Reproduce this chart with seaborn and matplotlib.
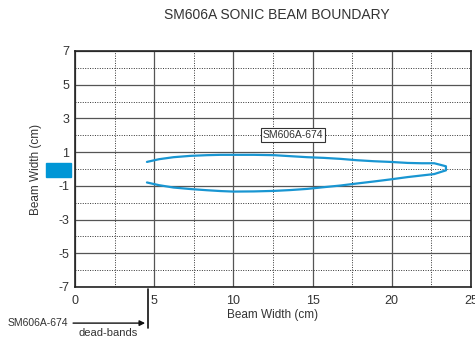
import matplotlib
matplotlib.use("Agg")
import matplotlib.pyplot as plt
import seaborn as sns
import pandas as pd
from matplotlib.patches import Rectangle

# Beam boundary (x in cm, y in cm)
upper_x = [4.54, 5.3, 6.22, 7.3, 8.33, 9.2, 10.0, 11.3, 12.55, 13.6, 14.66, 15.7, 16.77, 17.8, 18.88, 19.9, 21.0, 21.9, 22.68, 23.1, 23.42]
upper_y = [0.42, 0.58, 0.70, 0.78, 0.82, 0.84, 0.84, 0.84, 0.82, 0.76, 0.70, 0.66, 0.60, 0.52, 0.46, 0.42, 0.36, 0.34, 0.34, 0.24, 0.16]
lower_x = [23.42, 22.68, 21.0, 19.9, 18.88, 17.8, 16.77, 15.7, 14.66, 13.6, 12.55, 11.3, 10.0, 9.2, 8.33, 7.3, 6.22, 5.3, 4.54]
lower_y = [-0.08, -0.30, -0.48, -0.62, -0.74, -0.86, -0.98, -1.08, -1.18, -1.25, -1.30, -1.33, -1.34, -1.31, -1.26, -1.19, -1.10, -0.96, -0.80]

x_ticks = [0, 5, 10, 15, 20, 25]
y_ticks = [7, 5, 3, 1, -1, -3, -5, -7]
series_name = "SM606A-674"
dead_band = 4.6

df = pd.DataFrame({"x": upper_x + lower_x, "y": upper_y + lower_y})

sns.set_style("white")
plt.rcParams["font.family"] = ["Liberation Sans", "DejaVu Sans"]
plt.rcParams["axes.unicode_minus"] = False

blue = "#1996d2"
txt = "#333333"
fig = plt.figure(figsize=(4.75, 3.39), dpi=100)
ax = fig.add_axes([0.158, 0.1534, 0.8335, 0.6962])

# closed outline: upper edge left->right, lower edge back right->left
sns.lineplot(data=df, x="x", y="y", sort=False, estimator=None,
             color=blue, linewidth=1.6, ax=ax)

ax.set_xlim(0, 25)
ax.set_ylim(-7, 7)
ax.set_xticks(x_ticks)
ax.set_yticks(y_ticks)
ax.set_xticks([2.5, 7.5, 12.5, 17.5, 22.5], minor=True)
ax.set_yticks([6, 4, 2, 0, -2, -4, -6], minor=True)
ax.grid(True, which="major", color="#555555", linewidth=0.9)
ax.grid(True, which="minor", color="#333333", linewidth=0.7, linestyle=(0, (1, 1.5)))
ax.set_axisbelow(True)
ax.tick_params(which="both", length=0)
ax.tick_params(axis="x", pad=6, labelsize=9, colors=txt)
ax.tick_params(axis="y", pad=4, labelsize=9, colors=txt)
for s in ax.spines.values():
    s.set_color("#222222")
    s.set_linewidth(1.2)

ax.set_xlabel("Beam Width (cm)", fontsize=8.5, color=txt, labelpad=1)
ax.set_ylabel("Beam Width (cm)", fontsize=8.5, color=txt, labelpad=12)
fig.suptitle("SM606A SONIC BEAM BOUNDARY", x=0.583, y=0.975, fontsize=10, color=txt)

# label on curve
ax.text(13.77, 2.0, series_name, fontsize=7.5, ha="center", va="center", color=txt,
        bbox=dict(boxstyle="square,pad=0.2", fc="white", ec="#333333", lw=0.8))

# blue legend swatch left of the axes
ax.add_patch(Rectangle((-1.83, -0.45), 1.55, 0.8, transform=ax.transData,
                       color="#0096d6", clip_on=False))

# dead-band marker below axis
trans = ax.get_xaxis_transform()
ax.plot([dead_band, dead_band], [-0.01, -0.175], color="#111111", lw=1.2,
        transform=trans, clip_on=False)
ax.annotate("", xy=(dead_band, -0.153), xytext=(-0.3, -0.153), xycoords=trans, textcoords=trans,
            arrowprops=dict(arrowstyle="-|>", color="#111111", lw=1, mutation_scale=8),
            annotation_clip=False)
ax.text(-0.45, -0.153, series_name, transform=trans, fontsize=7.5, ha="right", va="center",
        color=txt, clip_on=False)
ax.text(2.1, -0.196, "dead-bands", transform=trans, fontsize=8, ha="center", va="center",
        color=txt, clip_on=False)

fig.savefig("out.png", dpi=100)
